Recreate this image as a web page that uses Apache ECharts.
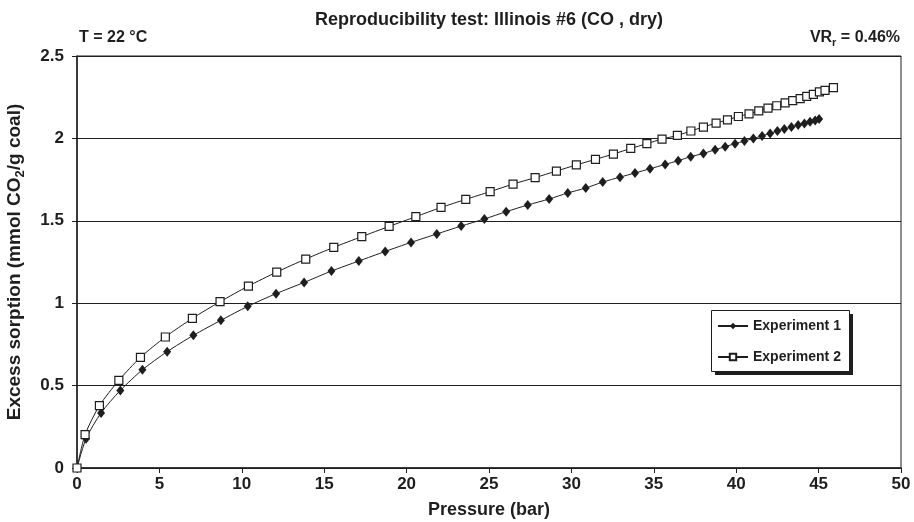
<!DOCTYPE html>
<html>
<head>
<meta charset="utf-8">
<script src="https://cdn.jsdelivr.net/npm/echarts@6/dist/echarts.min.js"></script>
<style>html,body{margin:0;padding:0;background:#fff}#c{width:914px;height:522px}</style>
</head>
<body>
<div id="c"></div>
<script>
var seriesNames = ['Experiment 1', 'Experiment 2'];
var pressure1 = [0, 0.55, 1.46, 2.63, 3.97, 5.47, 7.06, 8.73, 10.36, 12.08, 13.78, 15.44, 17.10, 18.70, 20.27, 21.83, 23.31, 24.72, 26.04, 27.35, 28.65, 29.78, 30.87, 31.90, 32.95, 33.86, 34.77, 35.69, 36.48, 37.24, 38.01, 38.72, 39.33, 39.93, 40.50, 41.04, 41.57, 42.06, 42.50, 42.92, 43.35, 43.76, 44.14, 44.48, 44.79, 45.03];
var sorption1 = [0, 0.178, 0.334, 0.471, 0.596, 0.706, 0.805, 0.896, 0.981, 1.058, 1.126, 1.195, 1.256, 1.314, 1.369, 1.420, 1.468, 1.511, 1.555, 1.596, 1.632, 1.669, 1.699, 1.735, 1.765, 1.790, 1.816, 1.842, 1.865, 1.889, 1.909, 1.931, 1.950, 1.968, 1.984, 2.000, 2.015, 2.030, 2.045, 2.057, 2.069, 2.081, 2.091, 2.101, 2.109, 2.118];
var pressure2 = [0, 0.49, 1.36, 2.54, 3.85, 5.36, 7.00, 8.68, 10.40, 12.12, 13.88, 15.58, 17.28, 18.94, 20.56, 22.09, 23.59, 25.07, 26.46, 27.80, 29.09, 30.30, 31.46, 32.55, 33.60, 34.58, 35.50, 36.43, 37.25, 38.01, 38.78, 39.47, 40.13, 40.78, 41.37, 41.93, 42.46, 42.97, 43.43, 43.88, 44.28, 44.68, 45.05, 45.39, 45.90];
var sorption2 = [0, 0.202, 0.378, 0.532, 0.671, 0.795, 0.908, 1.009, 1.104, 1.189, 1.268, 1.339, 1.404, 1.466, 1.525, 1.581, 1.630, 1.677, 1.723, 1.762, 1.802, 1.839, 1.873, 1.905, 1.939, 1.968, 1.996, 2.018, 2.045, 2.069, 2.093, 2.112, 2.133, 2.149, 2.167, 2.184, 2.198, 2.215, 2.229, 2.241, 2.255, 2.267, 2.282, 2.291, 2.308];
var xTicks = {min: 0, max: 50, step: 5};
var yTicks = {min: 0, max: 2.5, step: 0.5};

function pairs(xs, ys) { return xs.map(function (x, i) { return [x, ys[i]]; }); }

var FF = '"Liberation Sans", Arial, Helvetica, sans-serif';
var INK = '#1e1e1e';
var LB = {x: 711, y: 310, w: 138, h: 61, sh: 4};
var chart = echarts.init(document.getElementById('c'), null, {renderer: 'canvas'});
chart.setOption({
  animation: false,
  backgroundColor: '#fff',
  textStyle: {fontFamily: FF},
  grid: {left: 77, right: 13, top: 56, bottom: 54, containLabel: false, outerBoundsMode: 'none',
    show: true, borderColor: INK, borderWidth: 1, backgroundColor: 'transparent'},
  xAxis: {
    type: 'value', min: xTicks.min, max: xTicks.max, interval: xTicks.step,
    axisLine: {show: true, lineStyle: {color: INK, width: 1.5}},
    axisTick: {show: true, length: 5, lineStyle: {color: INK, width: 1}},
    axisLabel: {color: INK, fontSize: 17, fontWeight: 'bold', fontFamily: FF, margin: 8},
    splitLine: {show: false},
    name: 'Pressure (bar)', nameLocation: 'middle', nameGap: 33,
    nameTextStyle: {color: INK, fontSize: 18, fontWeight: 'bold', fontFamily: FF}
  },
  yAxis: {
    type: 'value', min: yTicks.min, max: yTicks.max, interval: yTicks.step,
    axisLine: {show: true, lineStyle: {color: INK, width: 1.5}},
    axisTick: {show: true, length: 5, lineStyle: {color: INK, width: 1}},
    axisLabel: {color: INK, fontSize: 17, fontWeight: 'bold', fontFamily: FF, margin: 13},
    splitLine: {show: true, lineStyle: {color: INK, width: 1}},
    name: '{a|Excess sorption (mmol CO}{s|2}{a|/g coal)}', nameLocation: 'middle', nameGap: 50,
    nameTextStyle: {
      color: INK, fontFamily: FF,
      rich: {
        a: {fontSize: 19, fontWeight: 'bold', fontFamily: FF, color: INK, lineHeight: 24},
        s: {fontSize: 13, fontWeight: 'bold', fontFamily: FF, color: INK, lineHeight: 12, verticalAlign: 'bottom'}
      }
    }
  },
  legend: {
    z: 20,
    orient: 'vertical', left: LB.x + 6, top: LB.y + 9,
    itemWidth: 30, itemHeight: 8, itemGap: 17,
    padding: 0,
    textStyle: {color: INK, fontSize: 14, fontWeight: 'bold', fontFamily: FF},
    data: seriesNames
  },
  graphic: [
    {type: 'text', style: {x: 489, y: 20, text: 'Reproducibility test: Illinois #6 (CO , dry)', align: 'center', verticalAlign: 'middle', fontSize: 18, fontWeight: 'bold', fontFamily: FF, fill: INK}},
    {type: 'text', style: {x: 79, y: 38, text: 'T = 22 °C', align: 'left', verticalAlign: 'middle', fontSize: 16, fontWeight: 'bold', fontFamily: FF, fill: INK}},
    {type: 'text', style: {x: 900, y: 38, text: '{a|VR}{s|r}{a| = 0.46%}', align: 'right', verticalAlign: 'middle', fill: INK,
      rich: {a: {fontSize: 16, fontWeight: 'bold', fontFamily: FF, fill: INK, lineHeight: 20}, s: {fontSize: 11, fontWeight: 'bold', fontFamily: FF, fill: INK, lineHeight: 10, verticalAlign: 'bottom'}}}},
    {type: 'rect', z: 10, shape: {x: LB.x + LB.sh, y: LB.y + LB.sh, width: LB.w, height: LB.h}, style: {fill: INK}},
    {type: 'rect', z: 11, shape: {x: LB.x + 0.5, y: LB.y + 0.5, width: LB.w, height: LB.h}, style: {fill: '#fff', stroke: INK, lineWidth: 1}}
  ],
  series: [
    {
      name: seriesNames[0], type: 'line', data: pairs(pressure1, sorption1), smooth: 0.25,
      symbol: 'diamond', symbolSize: [8, 10], showAllSymbol: true,
      lineStyle: {color: INK, width: 1}, itemStyle: {color: INK}
    },
    {
      name: seriesNames[1], type: 'line', data: pairs(pressure2, sorption2), smooth: 0.25,
      symbol: 'rect', symbolSize: 8, showAllSymbol: true,
      lineStyle: {color: INK, width: 1}, itemStyle: {color: '#fff', borderColor: INK, borderWidth: 1.2}
    }
  ]
});
</script>
</body>
</html>
